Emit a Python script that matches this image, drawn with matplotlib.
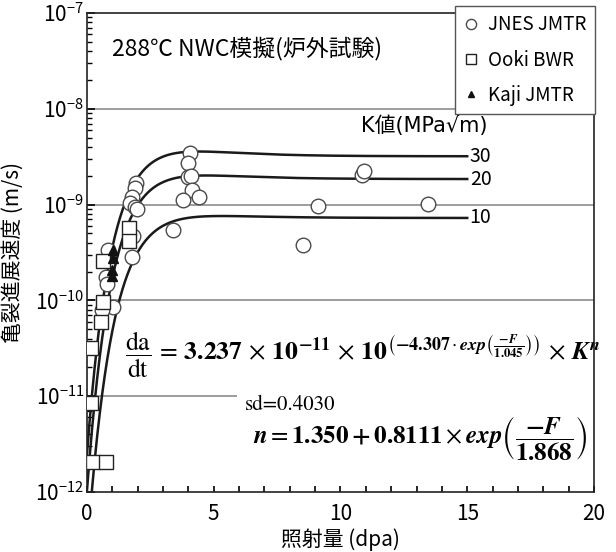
import numpy as np
import matplotlib
matplotlib.use("Agg")
import matplotlib.pyplot as plt

plt.rcParams['font.family'] = ['Noto Sans CJK JP', 'DejaVu Sans']
plt.rcParams['mathtext.fontset'] = 'stix'

# JNES JMTR (open circles): dose (dpa), da/dt (m/s)
jnes_dpa = [4.06, 3.97, 3.97, 4.09, 4.15, 3.80, 4.43, 3.38,
            1.93, 1.89, 1.76, 1.70, 1.89, 1.98, 1.81, 1.76,
            0.84, 0.75, 0.78, 1.04, 0.58,
            8.52, 9.11, 10.85, 10.93, 13.45]
jnes_rate = [3.46e-9, 2.7e-9, 1.95e-9, 2.0e-9, 1.42e-9, 1.12e-9, 1.21e-9, 5.4e-10,
             1.7e-9, 1.48e-9, 1.21e-9, 1.04e-9, 9.5e-10, 9.0e-10, 4.7e-10, 2.86e-10,
             3.36e-10, 1.77e-10, 1.5e-10, 8.6e-11, 8.0e-11,
             3.8e-10, 9.7e-10, 2.04e-9, 2.24e-9, 1.02e-9]

# Ooki BWR (open squares)
ooki_dpa = [1.67, 1.67, 0.62, 0.62, 0.54, 0.15, 0.15, 0.25, 0.75]
ooki_rate = [5.66e-10, 4.2e-10, 2.6e-10, 9.7e-11, 6.0e-11, 3.2e-11, 8.4e-12, 2.05e-12, 2.05e-12]

# Kaji JMTR (filled triangles)
kaji_dpa = [1.04, 1.04, 1.00, 0.97]
kaji_rate = [3.36e-10, 2.75e-10, 2.08e-10, 1.8e-10]

# fitted model printed on the chart
C0, A1, B1 = 3.237e-11, -4.307, 1.045
N0, N1, B2 = 1.350, 0.8111, 1.868
k_values = [10, 20, 30]


def crack_rate(F, K):
    n = N0 + N1 * np.exp(-F / B2)
    return C0 * 10 ** (A1 * np.exp(-F / B1)) * K ** n


fig = plt.figure(figsize=(6.16, 5.52), dpi=100)
ax = fig.add_axes([0.1412, 0.1087, 0.823, 0.8678])
ax.set_yscale('log')
ax.set_xlim(0, 20)
ax.set_ylim(1e-12, 1e-7)

# horizontal reference lines
ax.hlines([1e-8, 1e-9, 1e-10], 0, 20, color='#8c8c8c', lw=1.2, zorder=1)
ax.hlines(1e-11, 0, 5.9, color='#8c8c8c', lw=1.2, zorder=1)

F = np.linspace(0, 15, 300)
for K in k_values:
    ax.plot(F, crack_rate(F, K), color='#1a1a1a', lw=1.8, zorder=2)
    ax.text(15.1, crack_rate(15.0, K), str(K), fontsize=14, va='center', ha='left')

ax.plot(jnes_dpa, jnes_rate, 'o', ms=10.5, mfc='white', mec='#4a4a4a', mew=1.0,
        label='JNES JMTR', zorder=3)
ax.plot(ooki_dpa, ooki_rate, 's', ms=10, mfc='white', mec='#222222', mew=1.0,
        label='Ooki BWR', zorder=4)
ax.plot(kaji_dpa, kaji_rate, '^', ms=6.5, color='#111111', label='Kaji JMTR', zorder=5)

ax.set_xticks([0, 5, 10, 15, 20])
ax.set_xticks(np.arange(0, 21, 1), minor=True)
ax.tick_params(axis='x', which='both', direction='in', length=4, width=1.2,
               labelsize=15, pad=8)
yt = [1e-12, 1e-11, 1e-10, 1e-9, 1e-8, 1e-7]
ax.set_yticks(yt)
ax.set_yticklabels([r'$\mathregular{10^{%d}}$' % e for e in range(-12, -6)])
ax.tick_params(axis='y', which='major', direction='in', length=6, width=1.2,
               labelsize=15, pad=2)
ax.tick_params(axis='y', which='minor', direction='in', length=3.5, width=1.0)
for s in ax.spines.values():
    s.set_linewidth(1.2)
    s.set_color('#222222')

ax.set_xlabel('照射量 (dpa)', fontsize=15)
ax.xaxis.set_label_coords(0.5, -0.075)
ax.set_ylabel('亀裂進展速度 (m/s)', fontsize=15)
ax.yaxis.set_label_coords(-0.125, 0.5)

ax.text(1.0, 4.3e-8, '288℃ NWC模擬(炉外試験)', fontsize=16.5, va='center', ha='left')
ax.text(10.8, 6.6e-9, 'K値(MPa√m)', fontsize=15, va='center', ha='left',
        family=['DejaVu Sans', 'Noto Sans CJK JP'])

eq1 = (r'$\dfrac{\mathrm{da}}{\mathrm{dt}}\,=\,\mathbf{3.237}\,\times\,\mathbf{10^{-11}}\,\times\,\mathbf{10}'
       r'^{\left(\mathbf{-4.307}\cdot\boldsymbol{exp}\left(\frac{\boldsymbol{-F}}{\mathbf{1.045}}\right)\right)}'
       r'\,\times\,\boldsymbol{K}^{\boldsymbol{n}}$')
fig.text(125 / 616, 1 - 355 / 552, eq1, fontsize=18.5, va='center', ha='left')
fig.text(245 / 616, 1 - 405 / 552, 'sd=0.4030', fontsize=15, family='STIXGeneral',
         va='center', ha='left')
eq2 = (r'$\boldsymbol{n} = \mathbf{1.350 + 0.8111}\times\boldsymbol{exp}'
       r'\left(\dfrac{\boldsymbol{-F}}{\mathbf{1.868}}\right)$')
fig.text(253 / 616, 1 - 438 / 552, eq2, fontsize=18, va='center', ha='left')

leg = ax.legend(loc='upper right', bbox_to_anchor=(595 / 616, 1 - 6 / 552),
                bbox_transform=fig.transFigure, borderaxespad=0, fontsize=13.5,
                markerscale=0.7, handlelength=0.8, handletextpad=0.5,
                fancybox=False, framealpha=1, edgecolor='#555555',
                labelspacing=0.75, borderpad=0.45)
leg.get_frame().set_linewidth(1.0)

fig.savefig('out.png', dpi=100)
